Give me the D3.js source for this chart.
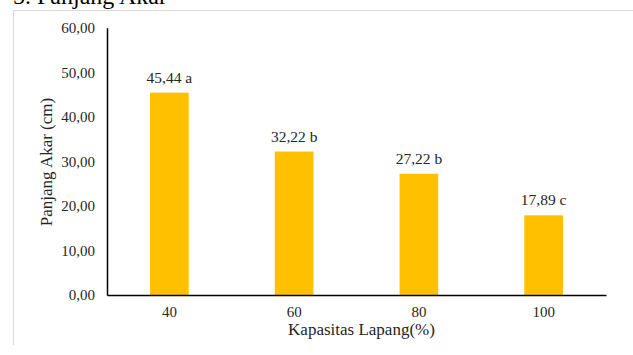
<!DOCTYPE html>
<html>
<head>
<meta charset="utf-8">
<script src="https://cdn.jsdelivr.net/npm/d3@7"></script>
<style>
  html, body { margin: 0; padding: 0; background: #fff; }
  svg { display: block; }
  text { font-family: "Liberation Serif", "Times New Roman", serif; fill: #262626; }
</style>
</head>
<body>
<svg id="chart" width="633" height="355"></svg>
<script>
// Panjang akar per kapasitas lapang
const categories = ["40", "60", "80", "100"];
const values = [45.44, 32.22, 27.22, 17.89];
const letters = ["a", "b", "b", "c"];
const yTicks = [0, 10, 20, 30, 40, 50, 60];

const svg = d3.select("#chart");
const fmt = v => d3.format(".2f")(v).replace(".", ",");

// Frame of the chart area
svg.append("line").attr("x1", 13.5).attr("x2", 13.5).attr("y1", 10).attr("y2", 345)
  .attr("stroke", "#d9d9d9").attr("stroke-width", 1);
svg.append("line").attr("x1", 13).attr("x2", 633).attr("y1", 10.5).attr("y2", 10.5)
  .attr("stroke", "#d9d9d9").attr("stroke-width", 1);

// Heading
svg.append("text").attr("x", 13).attr("y", 4)
  .style("font-size", "24px").style("fill", "#000")
  .text("5. Panjang Akar");

const plotLeft = 107, plotRight = 606, plotTop = 27.8, plotBottom = 295;

const x = d3.scaleBand().domain(categories).range([plotLeft, plotRight])
  .paddingInner(0.69).paddingOuter(0.345);
const y = d3.scaleLinear().domain([0, 60]).range([plotBottom, plotTop]);

// Bars
svg.append("g").selectAll("rect").data(values).join("rect")
  .attr("x", (d, i) => x(categories[i]))
  .attr("width", x.bandwidth())
  .attr("y", d => y(d))
  .attr("height", d => y(0) - y(d))
  .attr("fill", "#FFC000");

// Value labels with notation letters
svg.append("g").selectAll("text").data(values).join("text")
  .attr("x", (d, i) => x(categories[i]) + x.bandwidth() / 2)
  .attr("y", d => y(d) - 10)
  .attr("text-anchor", "middle")
  .style("font-size", "15.5px")
  .text((d, i) => fmt(d) + " " + letters[i]);

// Y axis
const yAxis = svg.append("g").attr("transform", `translate(${plotLeft},0)`)
  .call(d3.axisLeft(y).tickValues(yTicks).tickFormat(fmt).tickSize(0).tickPadding(12));
yAxis.select(".domain").attr("stroke", "#000").attr("stroke-width", 1.5);
yAxis.selectAll("text").style("font-size", "15px")
  .style("font-family", "Liberation Serif, serif").attr("fill", "#262626");

// X axis
const xAxis = svg.append("g").attr("transform", `translate(0,${plotBottom})`)
  .call(d3.axisBottom(x).tickSize(0).tickPadding(11));
xAxis.select(".domain").attr("stroke", "#000").attr("stroke-width", 1.5);
xAxis.selectAll("text").style("font-size", "15px")
  .style("font-family", "Liberation Serif, serif").attr("fill", "#262626");

// Axis titles
svg.append("text").attr("x", (plotLeft + plotRight) / 2 + 5).attr("y", 335)
  .attr("text-anchor", "middle").style("font-size", "17px")
  .text("Kapasitas Lapang(%)");

svg.append("text")
  .attr("transform", "translate(52,162) rotate(-90)")
  .attr("text-anchor", "middle").style("font-size", "17px")
  .text("Panjang Akar (cm)");
</script>
</body>
</html>
